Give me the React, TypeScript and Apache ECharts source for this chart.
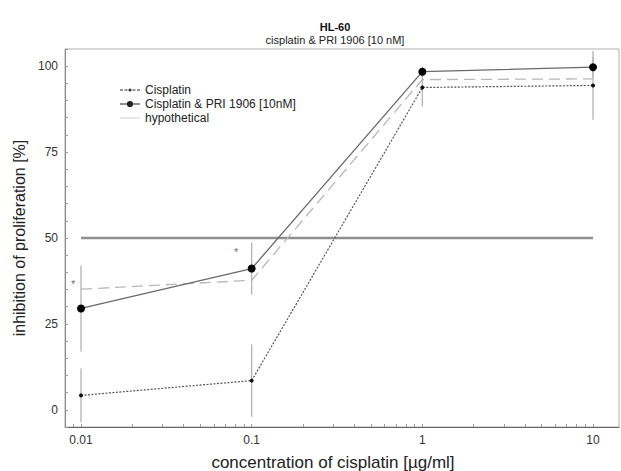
import React, { useEffect, useRef } from 'react';
import * as echarts from 'echarts';

// ---- data ----
const concentrations = [0.01, 0.1, 1, 10];
const cisplatin = [4.2, 8.5, 93.8, 94.4];
const cisplatinErr = [7.8, 10.5, 5.5, 10];
const combination = [29.5, 41.1, 98.4, 99.7];
const combinationErr = [12.5, 7.6, 1.5, 3];
const hypothetical = [35.1, 37.7, 96.1, 96.3];
const halfEffect = [[0.01, 50], [10, 50]];
const asterisks = [[0.009, 37.6], [0.081, 46.8]];
const xLabelValues = [0.01, 0.1, 1, 10];
const xTickValues = [
  0.009, 0.01, 0.02, 0.03, 0.04, 0.05, 0.06, 0.07, 0.08, 0.09,
  0.1, 0.2, 0.3, 0.4, 0.5, 0.6, 0.7, 0.8, 0.9,
  1, 2, 3, 4, 5, 6, 7, 8, 9, 10,
];

const seriesNames = ['Cisplatin', 'Cisplatin & PRI 1906 [10nM]', 'hypothetical'];

// legend icons (paths)
const iconCombo =
  'path://M0,2.6H7V3.6H0Z M13,2.6H20V3.6H13Z M13.1,3.1A3.1,3.1 0 1,1 6.9,3.1A3.1,3.1 0 1,1 13.1,3.1Z';
const iconCis =
  'path://M0,1.15H3V2.05H0Z M4.5,1.15H7.5V2.05H4.5Z M12.5,1.15H15.5V2.05H12.5Z M17,1.15H20V2.05H17Z M11.6,1.6A1.6,1.6 0 1,1 8.4,1.6A1.6,1.6 0 1,1 11.6,1.6Z';
const iconHyp = 'path://M0,0H20V0.8H0Z';

export default function App() {
  const ref = useRef<HTMLDivElement>(null);
  useEffect(() => {
    document.body.style.margin = '0';
    const chart = echarts.init(ref.current!, null, { renderer: 'svg' });
    const pairs = (vals: number[]) => concentrations.map((c, i) => [c, vals[i]]);
    const bars = (vals: number[], errs: number[]) =>
      concentrations.map((c, i) => [c, vals[i] - errs[i], vals[i] + errs[i]]);
    const errRender = (params: any, api: any) => {
      const x = api.value(0);
      const lo = api.coord([x, api.value(1)]);
      const hi = api.coord([x, api.value(2)]);
      return {
        type: 'line',
        shape: { x1: lo[0], y1: lo[1], x2: hi[0], y2: hi[1] },
        style: { stroke: '#b4b4b4', lineWidth: 1.3 },
      };
    };
    chart.setOption({
      animation: false,
      textStyle: { fontFamily: 'Liberation Sans, Arial, sans-serif' },
      title: {
        text: 'HL-60',
        subtext: 'cisplatin & PRI 1906 [10 nM]',
        left: 330,
        top: 16,
        textAlign: 'center',
        itemGap: 1,
        textStyle: { fontSize: 11, fontWeight: 'bold', color: '#111', lineHeight: 12 },
        subtextStyle: { fontSize: 11, color: '#222', lineHeight: 12 },
      },
      legend: {
        orient: 'vertical',
        left: 115,
        top: 79,
        itemWidth: 20,
        itemHeight: 7,
        itemGap: 2,
        symbolKeepAspect: true,
        textStyle: { fontSize: 12, color: '#222', lineHeight: 12 },
        data: [
          { name: seriesNames[0], icon: iconCis, itemStyle: { color: '#333' } },
          { name: seriesNames[1], icon: iconCombo, itemStyle: { color: '#222' } },
          { name: seriesNames[2], icon: iconHyp, itemStyle: { color: '#c4c4c4' } },
        ],
      },
      grid: {
        left: 65,
        right: 2,
        top: 49,
        bottom: 44,
        show: true,
        borderColor: '#b0b0b0',
        borderWidth: 1,
        containLabel: false,
        outerBoundsMode: 'none',
      },
      xAxis: {
        type: 'log',
        logBase: 10,
        min: 0.00806,
        max: 14.2,
        name: 'concentration of cisplatin [µg/ml]',
        nameLocation: 'middle',
        nameGap: 27,
        nameTextStyle: { fontSize: 17, color: '#222', padding: [0, 18, 0, 0] },
        axisLine: { show: true, onZero: false, lineStyle: { color: '#666', width: 1 } },
        axisTick: {
          show: true,
          inside: true,
          length: 3,
          customValues: xTickValues,
          lineStyle: { color: '#999' },
        },
        axisLabel: {
          customValues: xLabelValues,
          formatter: (v: number) => String(Number(Number(v).toPrecision(3))),
          fontSize: 12,
          color: '#333',
          margin: 7,
        },
        splitLine: { show: false },
      },
      yAxis: {
        type: 'value',
        min: -5,
        max: 105,
        interval: 5,
        name: 'inhibition of proliferation [%]',
        nameLocation: 'middle',
        nameGap: 29,
        nameTextStyle: { fontSize: 16, color: '#222' },
        axisLine: { show: true, onZero: false, lineStyle: { color: '#888', width: 1 } },
        axisTick: { show: true, inside: true, length: 3, lineStyle: { color: '#999' } },
        axisLabel: {
          formatter: (v: number) => (v % 25 === 0 && v >= 0 && v <= 100 ? String(v) : ''),
          fontSize: 12,
          color: '#333',
          margin: 7,
        },
        splitLine: { show: false },
      },
      series: [
        {
          type: 'custom',
          name: 'cisErr',
          data: bars(cisplatin, cisplatinErr),
          renderItem: errRender,
          encode: { x: 0, y: [1, 2] },
          z: 1,
          silent: true,
        },
        {
          type: 'custom',
          name: 'comboErr',
          data: bars(combination, combinationErr),
          renderItem: errRender,
          encode: { x: 0, y: [1, 2] },
          z: 1,
          silent: true,
        },
        {
          type: 'line',
          name: 'half',
          data: halfEffect,
          symbol: 'none',
          lineStyle: { color: '#8e8e8e', width: 2.6 },
          z: 2,
          silent: true,
        },
        {
          type: 'line',
          name: seriesNames[2],
          data: pairs(hypothetical),
          symbol: 'none',
          lineStyle: { color: '#b8b8b8', width: 1.3, type: [11, 6] },
          itemStyle: { color: '#b8b8b8' },
          z: 3,
        },
        {
          type: 'line',
          name: seriesNames[0],
          data: pairs(cisplatin),
          symbol: 'circle',
          symbolSize: 4,
          lineStyle: { color: '#555', width: 1.2, type: [2, 1.5] },
          itemStyle: { color: '#111' },
          z: 4,
        },
        {
          type: 'line',
          name: seriesNames[1],
          data: pairs(combination),
          symbol: 'circle',
          symbolSize: 8,
          lineStyle: { color: '#6a6a6a', width: 1.3 },
          itemStyle: { color: '#000' },
          z: 5,
        },
        {
          type: 'scatter',
          name: 'significance',
          data: asterisks,
          symbolSize: 0,
          itemStyle: { color: '#444' },
          label: {
            show: true,
            formatter: '*',
            position: 'inside',
            fontSize: 11,
            color: '#444',
            offset: [0, 3],
          },
          z: 6,
          silent: true,
        },
      ],
    });
    return () => chart.dispose();
  }, []);
  return (
    <div
      ref={ref}
      style={{ position: 'fixed', left: 0, top: 0, width: 621, height: 471, background: '#fff' }}
    />
  );
}
